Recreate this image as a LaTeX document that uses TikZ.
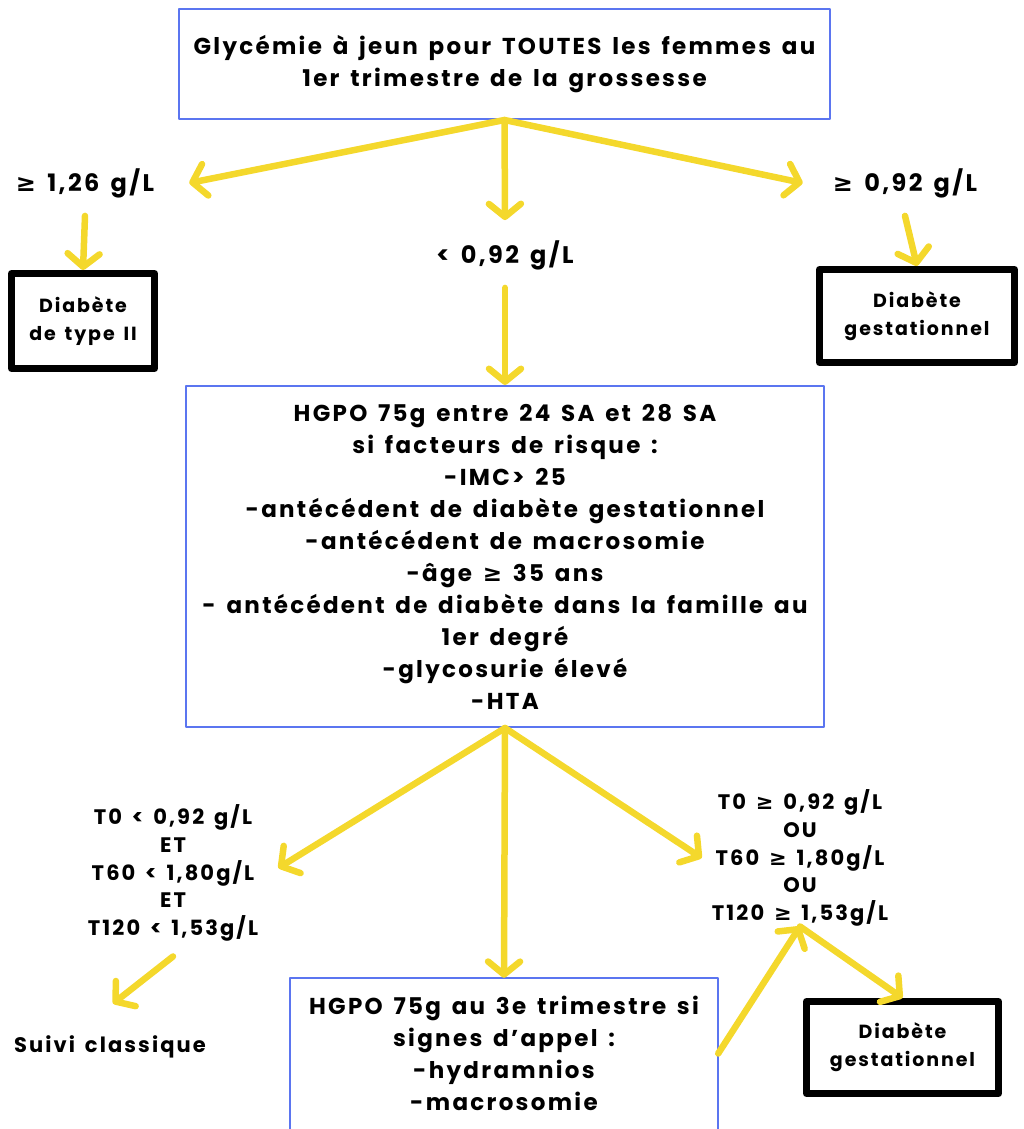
\documentclass[tikz,border=0pt]{standalone}
\usepackage{fontspec}
\setmainfont{Poppins}[LetterSpace=10, WordSpace=1.5]
\newfontfamily\symfont{DejaVu Sans}
\newcommand{\gte}{{\symfont\bfseries ≥}}
\usetikzlibrary{arrows.meta}
\definecolor{jaune}{HTML}{F4D82C}
\definecolor{bleu}{HTML}{5B75F0}

\begin{document}
\begin{tikzpicture}[x=1pt, y=-1pt, line join=round, line cap=round, font=\bfseries\fontsize{23}{32}\selectfont]
	\tikzset{
		boite/.style={draw=bleu, line width=2pt, align=center, inner sep=0pt},
		resultat/.style={draw=black, line width=7pt, align=center, inner sep=0pt, font=\bfseries\fontsize{19}{28}\selectfont},
		seuil/.style={align=center, inner sep=0pt, font=\bfseries\fontsize{24}{30}\selectfont},
		test/.style={align=center, inner sep=0pt, font=\bfseries\fontsize{21}{27.7}\selectfont},
		fleche/.style={draw=jaune, line width=6.5pt, -{Straight Barb[length=13pt,width=32pt,round]}},
	}
	\useasboundingbox (0,0) rectangle (1023,1129);
	% glycemie a jeun
	\node[boite, minimum width=651pt, minimum height=110pt] (glyc) at (504.5,64) {Glycémie à jeun pour TOUTES les femmes au\\1er trimestre de la grossesse};
	\node[seuil] (s126) at (85,183) {\gte{} 1,26 g/L};
	\node[seuil] (s092) at (905,183) {\gte{} 0,92 g/L};
	\node[seuil] (sinf) at (505,255) {< 0,92 g/L};
	\node[resultat, minimum width=143pt, minimum height=95pt] (type2) at (83,321) {Diabète\\de type II};
	\node[resultat, minimum width=195pt, minimum height=93pt] (gest1) at (917,316) {Diabète\\gestationnel};
	% HGPO 24-28 SA
	\node[boite, minimum width=638pt, minimum height=341pt] (hgpo) at (505,556.5) {HGPO 75g entre 24 SA et 28 SA\\si facteurs de risque :\\-IMC> 25\\-antécédent de diabète gestationnel\\-antécédent de macrosomie\\-âge \gte{} 35 ans\\- antécédent de diabète dans la famille au\\1er degré\\-glycosurie élevé\\-HTA};
	\node[test] (normal) at (173,873) {T0 < 0,92 g/L\\ET\\T60 < 1,80g/L\\ET\\T120 < 1,53g/L};
	\node[test] (patho) at (800,858) {T0 \gte{} 0,92 g/L\\OU\\T60 \gte{} 1,80g/L\\OU\\T120 \gte{} 1,53g/L};
	\node[test] (suivi) at (110,1047) {Suivi classique};
	% HGPO 3e trimestre
	\node[align=center, inner sep=0pt, minimum width=428pt, minimum height=151pt] (hgpo3) at (504,1053.5) {HGPO 75g au 3e trimestre si\\signes d’appel :\\-hydramnios\\-macrosomie};
	\draw[bleu, line width=2pt] (hgpo3.south west) ++(0,10) |- (hgpo3.north east) -- ++(0,161);
	\node[resultat, minimum width=192pt, minimum height=92pt] (gest2) at (902.5,1047.5) {Diabète\\gestationnel};
	% fleches
	\draw[fleche] (glyc.south) -- ([xshift=35pt]s126.east);
	\draw[fleche] (glyc.south) -- ([yshift=20pt]sinf.north);
	\draw[fleche] (glyc.south) -- ([xshift=-30pt]s092.west);
	\draw[fleche] ([yshift=-18pt]s126.south) -- (type2.north);
	\draw[fleche] ([yshift=-18pt]s092.south) -- (gest1.north);
	\draw[fleche] ([yshift=-18pt]sinf.south) -- (hgpo.north);
	\draw[fleche] (hgpo.south) -- ([xshift=20pt,yshift=5pt]normal.east);
	\draw[fleche] (hgpo.south) -- (hgpo3.north);
	\draw[fleche] (hgpo.south) -- ([xshift=-10pt]patho.west);
	\draw[fleche] ([yshift=-15pt]normal.south) -- ([xshift=3pt,yshift=32pt]suivi.north);
	\draw[fleche] (hgpo3.east) -- (patho.south);
	\draw[fleche] (patho.south) -- (gest2.north);
\end{tikzpicture}
\end{document}
